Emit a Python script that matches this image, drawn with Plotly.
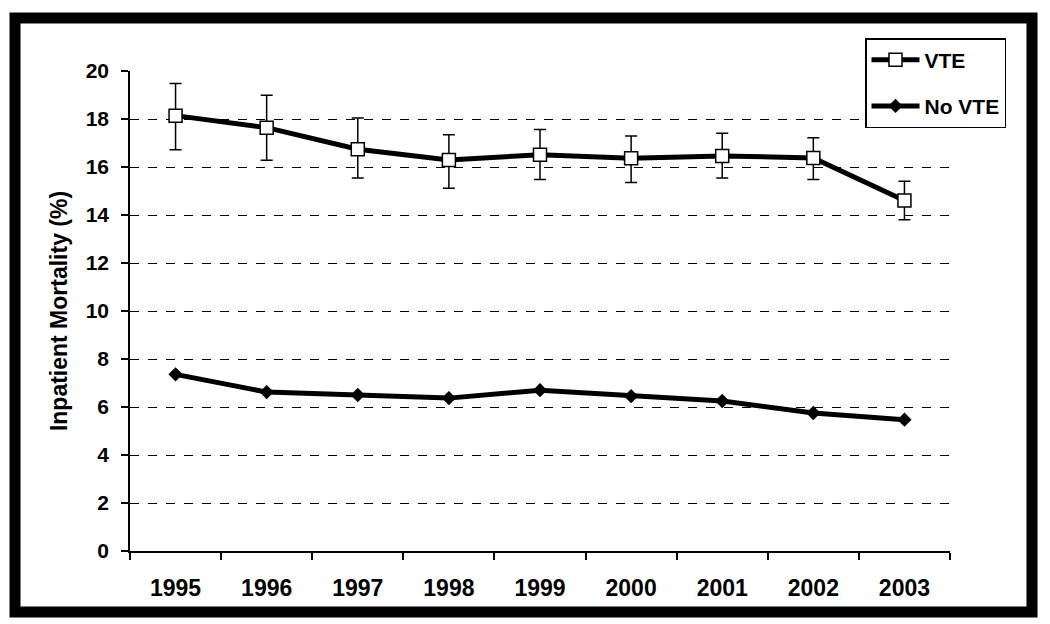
import plotly.graph_objects as go

years = ["1995", "1996", "1997", "1998", "1999", "2000", "2001", "2002", "2003"]
vte = [18.14, 17.64, 16.74, 16.29, 16.51, 16.36, 16.46, 16.38, 14.60]
vte_upper = [19.48, 18.99, 18.04, 17.34, 17.56, 17.29, 17.41, 17.22, 15.41]
vte_lower = [16.72, 16.28, 15.54, 15.11, 15.48, 15.35, 15.54, 15.48, 13.80]
no_vte = [7.36, 6.62, 6.50, 6.37, 6.70, 6.45, 6.25, 5.75, 5.47]
y_ticks = [0, 2, 4, 6, 8, 10, 12, 14, 16, 18, 20]

err_plus = [u - v for u, v in zip(vte_upper, vte)]
err_minus = [v - l for v, l in zip(vte, vte_lower)]

W, H = 1050, 624
L, R, T, B = 130, 100, 71, 73
pw, ph = W - L - R, H - T - B

def px(x):
    return (x - L) / pw

def py(y):
    return (H - B - y) / ph

fig = go.Figure()
fig.add_trace(go.Scatter(
    x=years, y=vte, name="VTE", mode="lines+markers",
    line=dict(color="black", width=5),
    marker=dict(symbol="square", size=13, color="white",
                line=dict(color="black", width=1.5)),
    error_y=dict(type="data", symmetric=False, array=err_plus,
                 arrayminus=err_minus, color="black", thickness=1.5, width=6),
    legendgroup="a",
))
fig.add_trace(go.Scatter(
    x=years, y=no_vte, name="No VTE", mode="lines+markers",
    line=dict(color="black", width=5),
    marker=dict(symbol="diamond", size=11, color="black"),
    legendgroup="b",
))

fig.update_layout(
    width=W, height=H,
    margin=dict(l=L, r=R, t=T, b=B),
    paper_bgcolor="white", plot_bgcolor="white",
    font=dict(family="Liberation Sans, Arial, sans-serif", color="black"),
    showlegend=True,
    legend=dict(
        x=px(865), y=py(38), xanchor="left", yanchor="top",
        bgcolor="white", bordercolor="black", borderwidth=1.5,
        font=dict(size=21, family="Liberation Sans, Arial, sans-serif", color="black", weight="bold"),
        traceorder="grouped", tracegroupgap=16,
        itemwidth=48,
    ),
    xaxis=dict(
        type="category", range=[-0.5, 8.5],
        showline=True, linecolor="black", linewidth=1.5,
        ticks="outside", tickson="boundaries", ticklen=7, tickcolor="black", tickwidth=1.5,
        showgrid=False, zeroline=False,
        tickfont=dict(size=23, weight="bold"),
        ticklabelstandoff=16,
    ),
    yaxis=dict(
        range=[0, 20], tickvals=y_ticks,
        showline=True, linecolor="black", linewidth=1.5,
        ticks="outside", ticklen=7, tickcolor="black", tickwidth=1.5,
        showgrid=True, gridcolor="black", gridwidth=1, griddash="dash",
        zeroline=False,
        tickfont=dict(size=21, weight="bold"),
        ticklabelstandoff=8,
        title=dict(text="Inpatient Mortality (%)", font=dict(size=23, weight="bold"), standoff=12),
    ),
    shapes=[dict(
        type="rect", xref="paper", yref="paper",
        x0=px(15), x1=px(1032), y0=py(612), y1=py(18),
        line=dict(color="black", width=11), fillcolor="rgba(0,0,0,0)",
        layer="above",
    )],
)

fig.write_html("out.html", config={"displayModeBar": False},
               post_script="document.body.style.margin='0';")
